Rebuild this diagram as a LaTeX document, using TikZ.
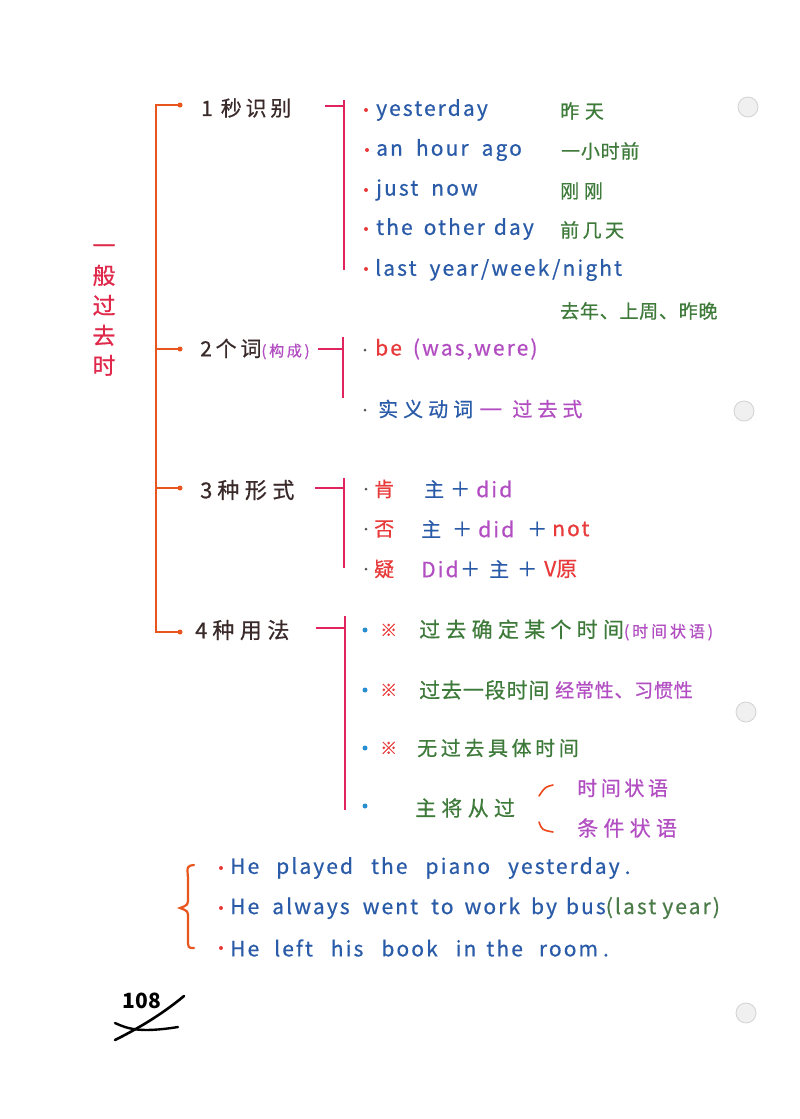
\documentclass[tikz,border=0pt]{standalone}
\usepackage{fontspec}
\setmainfont{Noto Sans CJK SC}
\newfontfamily\en[LetterSpace=10,FakeBold=0.6]{Noto Sans CJK SC}
\newfontfamily\zh[LetterSpace=18,FakeBold=0.6]{Noto Sans CJK SC}
\newfontfamily\zq[LetterSpace=25,FakeBold=0.6]{Noto Sans CJK SC}
\newfontfamily\zt[LetterSpace=4,FakeBold=0.6]{Noto Sans CJK SC}
\newfontfamily\zw[LetterSpace=30,FakeBold=0.6]{Noto Sans CJK SC}
\definecolor{brOrange}{HTML}{E8561E}
\definecolor{brRed}{HTML}{E0245E}
\definecolor{ttlRed}{HTML}{E0284A}
\definecolor{darkTx}{HTML}{3A2A2A}
\definecolor{blueTx}{HTML}{2A5BA8}
\definecolor{greenTx}{HTML}{3E7A3A}
\definecolor{purpTx}{HTML}{B24DC2}
\definecolor{redTx}{HTML}{E83A3A}
\definecolor{ltBlue}{HTML}{2A8FD0}
\definecolor{grayDot}{HTML}{555555}
\tikzset{
  tx/.style={inner sep=0pt, anchor=west, font=\en\fontsize{21}{24}\selectfont},
  zc/.style={inner sep=0pt, anchor=west, font=\zh\fontsize{20}{24}\selectfont},
  lbl/.style={inner sep=0pt, anchor=west, text=darkTx, font=\zq\fontsize{22}{24}\selectfont},
  obr/.style={draw=brOrange, line width=1.8pt},
  rbr/.style={draw=brRed, line width=1.8pt},
  tip/.style={circle, fill=brOrange, inner sep=0pt, minimum size=5pt},
  rdot/.style={circle, fill=redTx, inner sep=0pt, minimum size=4pt},
  gdot/.style={circle, fill=grayDot, inner sep=0pt, minimum size=3pt},
  bdot/.style={circle, fill=ltBlue, inner sep=0pt, minimum size=5pt},
  hole/.style={circle, fill=gray!12, draw=gray!35, line width=0.8pt, minimum size=20pt, inner sep=0pt},
}
\begin{document}
\begin{tikzpicture}[x=1pt,y=-1pt]
\fill[white] (0,0) rectangle (800,1119);
\useasboundingbox (0,0) rectangle (800,1119);

% punch holes
\node[hole] (p1) at (748,107) {};
\node[hole] (p2) at (744,411) {};
\node[hole] (p3) at (746,712) {};
\node[hole] (p4) at (746,1013) {};

% title
\node[inner sep=0pt, align=center, text=ttlRed, font=\zh\fontsize{23}{30}\selectfont] (title) at (104,310) {一\\般\\过\\去\\时};

% main bracket
\coordinate (m1) at (156,105);
\coordinate (m2) at (156,349);
\coordinate (m3) at (156,488);
\coordinate (m4) at (156,632);
\node[tip] (t1) at (180,105) {};
\node[tip] (t2) at (180,349) {};
\node[tip] (t3) at (180,488) {};
\node[tip] (t4) at (180,632) {};
\draw[obr] (t1.center) -- (m1) -- (m4) -- (t4.center);
\draw[obr] (m2) -- (t2.center);
\draw[obr] (m3) -- (t3.center);

% section labels
\node[lbl, font=\zh\fontsize{21}{24}\selectfont] (s1) at (201,108) {1\hspace{8pt}秒识别};
\node[lbl, font=\zh\fontsize{21}{24}\selectfont] (s2) at (200,349) {2个词{\color{purpTx}\zh\fontsize{15}{16}\selectfont(构成)}};
\node[lbl] (s3) at (200,490) {3\hspace{5pt}种形式};
\node[lbl] (s4) at (195,630) {4\hspace{5pt}种用法};

% sub brackets
\coordinate (h1a) at (325,106); \coordinate (h1b) at (344,106);
\coordinate (v1a) at (344,100); \coordinate (v1b) at (344,270);
\draw[rbr] (h1a) -- (h1b); \draw[rbr] (v1a) -- (v1b);
\coordinate (h2a) at (318,349); \coordinate (h2b) at (343,349);
\coordinate (v2a) at (343,337); \coordinate (v2b) at (343,398);
\draw[rbr] (h2a) -- (h2b); \draw[rbr] (v2a) -- (v2b);
\coordinate (h3a) at (315,488); \coordinate (h3b) at (344,488);
\coordinate (v3a) at (344,478); \coordinate (v3b) at (344,568);
\draw[rbr] (h3a) -- (h3b); \draw[rbr] (v3a) -- (v3b);
\coordinate (h4a) at (316,628); \coordinate (h4b) at (345,628);
\coordinate (v4a) at (345,616); \coordinate (v4b) at (345,810);
\draw[rbr] (h4a) -- (h4b); \draw[rbr] (v4a) -- (v4b);

% section 1 items
\node[rdot] (d11) at (366,110) {};
\node[rdot] (d12) at (367,150) {};
\node[rdot] (d13) at (366,190) {};
\node[rdot] (d14) at (366,229) {};
\node[rdot] (d15) at (366,269) {};
\node[tx, text=blueTx] (e11) at (376,110) {yesterday};
\node[tx, text=blueTx] (e12) at (376,150) {an\hspace{13pt}hour\hspace{13pt}ago};
\node[tx, text=blueTx] (e13) at (376,190) {just\hspace{13pt}now};
\node[tx, text=blueTx] (e14) at (376,229) {the\hspace{11pt}other\hspace{9pt}day};
\node[tx, text=blueTx] (e15) at (375,270) {last\hspace{13pt}year\hspace{3pt}/week\hspace{3pt}/night};
\node[zc, text=greenTx, font=\zw\fontsize{19}{20}\selectfont] (c11) at (560,111) {昨天};
\node[zc, text=greenTx, font=\zt\fontsize{19}{20}\selectfont] (c12) at (561,151) {一小时前};
\node[zc, text=greenTx, font=\zq\fontsize{19}{20}\selectfont] (c13) at (560,191) {刚刚};
\node[zc, text=greenTx, font=\zh\fontsize{19}{20}\selectfont] (c14) at (560,230) {前几天};
\node[zc, text=greenTx, font=\zt\fontsize{19}{20}\selectfont] (c15) at (560,311) {去年、上周、昨晚};

% section 2 items
\node[gdot] (d21) at (365,350) {};
\node[gdot] (d22) at (365,410) {};
\node[tx] (e21) at (375,349) {{\color{redTx}be}\hspace{11pt}{\color{purpTx}(was,were)}};
\node[zc, font=\zq\fontsize{20}{24}\selectfont] (e22) at (378,409) {{\color{blueTx}实义动词}\hspace{6pt}{\color{purpTx}\fontsize{26}{24}\selectfont —}\hspace{10pt}{\color{purpTx}过去式}};

% section 3 items
\node[gdot] (d31) at (366,489) {};
\node[gdot] (d32) at (366,529) {};
\node[gdot] (d33) at (366,569) {};
\node[zc, text=redTx] (f31) at (374,489) {肯};
\node[zc, text=blueTx] (z31) at (424,489) {主};
\node[zc, text=blueTx] (p31) at (450,489) {＋};
\node[tx, text=purpTx] (g31) at (476,489) {did};
\node[zc, text=redTx] (f32) at (374,529) {否};
\node[zc, text=blueTx] (z32) at (421,529) {主};
\node[zc, text=blueTx] (p32) at (452,529) {＋};
\node[tx, text=purpTx] (g32) at (478,529) {did};
\node[zc, text=blueTx] (q32) at (527,529) {＋};
\node[tx, text=redTx] (n32) at (552,529) {not};
\node[zc, text=redTx] (f33) at (374,569) {疑};
\node[tx, text=purpTx] (g33) at (421,569) {Did};
\node[zc, text=blueTx] (p33) at (460,569) {＋};
\node[zc, text=blueTx] (z33) at (489,569) {主};
\node[zc, text=blueTx] (q33) at (517,569) {＋};
\node[tx, text=redTx] (v33) at (544,569) {V{\zh 原}};

% section 4 items
\node[bdot] (d41) at (365,630) {};
\node[bdot] (d42) at (365,690) {};
\node[bdot] (d43) at (365,748) {};
\node[bdot] (d44) at (365,806) {};
\node[zc, text=redTx, font=\zt\fontsize{17}{20}\selectfont] (k41) at (380,630) {※};
\node[zc, text=redTx, font=\zt\fontsize{17}{20}\selectfont] (k42) at (380,690) {※};
\node[zc, text=redTx, font=\zt\fontsize{17}{20}\selectfont] (k43) at (380,748) {※};
\node[zc, font=\zq\fontsize{21}{24}\selectfont] (e41) at (419,630) {{\color{greenTx}过去确定某个时间}{\color{purpTx}\zh\fontsize{16}{18}\selectfont(时间状语)}};
\node[zc, text=greenTx, font=\zt\fontsize{21}{24}\selectfont] (e42) at (419,690) {过去一段时间};
\node[zc, text=purpTx, font=\zt\fontsize{19}{24}\selectfont] (e42b) at (555,690) {经常性、习惯性};
\node[zc, text=greenTx, font=\zh\fontsize{20}{24}\selectfont] (e43) at (417,748) {无过去具体时间};
\node[zc, text=greenTx, font=\zq\fontsize{21}{24}\selectfont] (e44) at (415,808) {主将从过};
\node[zc, text=purpTx, font=\zh\fontsize{20}{20}\selectfont] (f1) at (577,788) {时间状语};
\node[zc, text=purpTx, font=\zq\fontsize{21}{20}\selectfont] (f2) at (577,828) {条件状语};
\coordinate (a1s) at (553,785); \coordinate (a1e) at (539,796);
\coordinate (a2s) at (539,822); \coordinate (a2e) at (553,832);
\draw[draw=brOrange!80!red, line width=1.6pt, line cap=round] (a1s) .. controls (545,787) .. (a1e);
\draw[draw=brOrange!80!red, line width=1.6pt, line cap=round] (a2s) .. controls (542,830) .. (a2e);

% examples
\coordinate (br1) at (194,865);
\coordinate (brm) at (180,908);
\coordinate (br2) at (194,948);
\draw[draw=brOrange, line width=2.2pt, line cap=round] (br1) .. controls (187,866) .. (188,878) -- (188,897) .. controls (188,905) .. (brm) .. controls (188,911) .. (188,918) -- (188,938) .. controls (188,948) .. (br2);
\node[rdot] (d51) at (221,868) {};
\node[rdot] (d52) at (221,908) {};
\node[rdot] (d53) at (221,948) {};
\node[tx, text=blueTx] (x1) at (230,868) {He\hspace{17pt}played\hspace{18pt}the\hspace{18pt}piano\hspace{18pt}yesterday\hspace{5pt}.};
\node[tx, text=blueTx] (x2) at (230,908) {He\hspace{13pt}always\hspace{13pt}went\hspace{13pt}to\hspace{11pt}work\hspace{11pt}by\hspace{9pt}bus{\color{greenTx!80!gray}(last\hspace{6pt}year)}};
\node[tx, text=blueTx] (x3) at (230,948) {He\hspace{15pt}left\hspace{18pt}his\hspace{18pt}book\hspace{18pt}in\hspace{10pt}the\hspace{16pt}room\hspace{5pt}.};

% page number
\node[inner sep=0pt, font=\fontsize{21}{22}\selectfont\bfseries] (pg) at (142,1001) {108};
\coordinate (w1a) at (115,1040); \coordinate (w1b) at (184,996);
\coordinate (w2a) at (115,1023); \coordinate (w2b) at (178,1027);
\draw[line width=2.6pt, line cap=round] (w1a) .. controls (135,1030) and (160,1016) .. (w1b);
\draw[line width=2.4pt, line cap=round] (w2a) .. controls (128,1029) and (140,1033) .. (w2b);
\end{tikzpicture}
\end{document}
